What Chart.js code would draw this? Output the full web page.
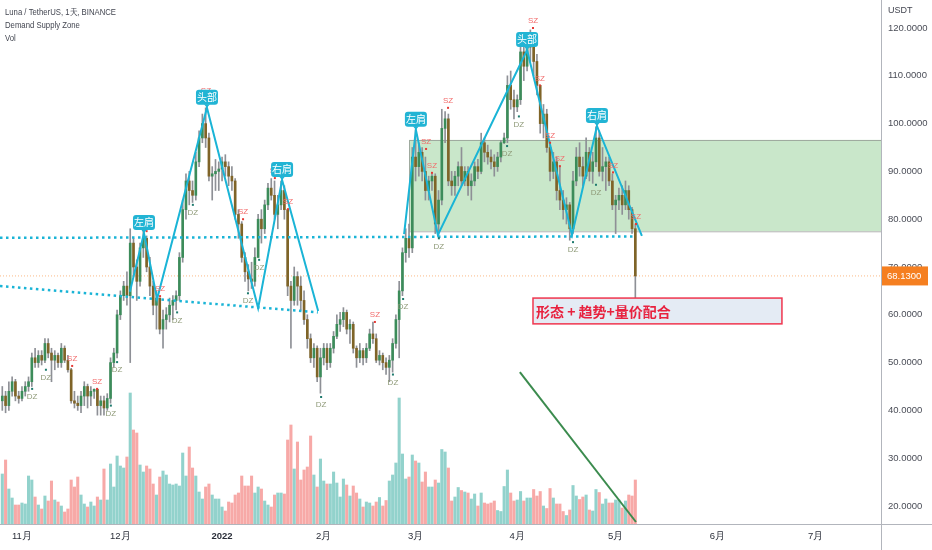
<!DOCTYPE html>
<html lang="zh">
<head>
<meta charset="UTF-8">
<title>Luna / TetherUS 1天</title>
<script src="https://cdn.jsdelivr.net/npm/chart.js"></script>
<style>
  body { margin: 0; background: #fff; }
</style>
</head>
<body>
<canvas id="lunaChart" width="932" height="550"></canvas>
<script>
// daily candles, index 0 = 2021-10-26, last = 2022-05-07
const opens = [42,43,41,44,46,43,42.5,44,45,46, 51,50,51.5,50.5,54,52,50.5,51.5,50,53,
  50.5,48.5,42,41.5,41,43,45,43,44,44.4, 41,42,40.5,42.5,50,52,60,64,66,64,
  75,70,67,74,76,70,66,62,63.5,57, 59,60,62,63,64,72,82,88,86,85,
  92,97,100,97,89,89.5,90,90.5,92,91, 89,88,81,79,72,69,67.5,67,72,80,
  78,83,86.5,85,81,83,86,82,66,63, 68,66,63,59,55,51,53,47,51,53,
  50,53,55.5,58,59,60.5,57,58,53,51, 52.5,51,53,56,55,50.5,51.5,50,49,50.5,
  54,59,65,73,76,74,93,91,94,90, 86,88,89,79,84,99,101,88,87,89,
  91,88,90,87,88,91,90,96,94,93, 92,91,93,96,97,108,105,103.5,105,115,
  112,116,117,113,108,100,102,95,90,92, 86,84,82,83,78,88,93,91,89,94,
  90,92,97,90,91,92,88,83,84,85, 83,86,82,78];
const highs = [45,44,46,47,46.5,44,45,46,47,52, 53,52.5,52.5,55,55,53,52.5,52,54,53.5,
  51.5,48.8,44,43,44,46,45.5,45,44.5,44.5, 43,43,43.5,51,53,61,65,67,69,78,
  76,71.5,75,77.7,76.5,72,67,65,63.5,61, 61.5,63.5,64,65,73,84,89.5,90,88,94,
  98.5,102,103.3,98,91,92.5,92,93,93.5,92, 91,88.5,82,79.5,73,70.5,71,74,81,82,
  84,87.5,88.5,88,85,88,87,82,67,70, 69,68,65,60,56,54,53.5,53,54,54,
  54,56.5,60,60.5,61.5,61,59,58.5,53.5,54, 53,54,57,58.5,56,52.5,52,51,51.5,55,
  60,67,74,78,79,95,98.7,96,95,93, 89,89.5,89.5,86,103,102.5,102,90,90,92,
  95,91,91,89.5,92,92.5,98,97,95.5,94.5, 93.5,94,96.5,98,110,111,107,106,117.5,116,
  118,119.6,119,114.5,108,104,103,96,94,93, 91,86,84.5,83.5,90,95,96,93,97,95,
  94,99.3,98.5,95,93,93,89.5,85,86.5,87, 88,87,82.5,79];
const lows = [40,39.5,40,43,42,41.5,42,43,44,45, 49,49,49.5,50,51,46,48.5,49,49,50,
  48,41.5,40.5,40,39.5,41,40.5,41,42.5,39, 39,39,40,41.5,49,51,59,63,62,50,
  68,63,66,72,69,64,60,57,56,53, 57,58.5,59,61,63,71,80,83,83.5,84,
  91,96,95,88,84,86,86,88,89,87, 86,80,76,71,67,65,65.5,66,72,75,
  77,82,84,80,78,82,80,64,53,62, 62,61,58,53,50,49,46,43.6,49.5,48.5,
  49,52,55,56.5,57.5,56,54,52,49,50, 49.5,50,52.5,54,50,49.5,48.5,47.5,46,48,
  53,51,64,71,72,73,88,89,88,84, 84,86,77,76.5,83,96,87,85,85,87,
  87,87,85,84,87,88.5,89.5,92,91.5,90.5, 89,90,92,95.8,96,103,101,102.5,104,109,
  111,113,110,106,98,97,94,88,88.5,84, 82,80,79,75.6,77,87,89,87,88.5,88,
  87.5,91,89,88,86,87,82,77,82,81, 82,80,77,63];
const closes = [43,41,44,46,43,42.5,44,45,46,51, 50,51.5,50.5,54,52,50.5,51.5,50,53,50.5,
  48.5,42,41.5,41,43,45,43,44,44.4,41, 42,40.5,42.5,50,52,60,64,66,64,75,
  70,67,74,76,70,66,62,63.5,57,59, 60,62,63,64,72,82,88,86,85,92,
  97,100,97,89,89.5,90,90.5,92,91,89, 88,81,79,72,69,67.5,67,72,80,78,
  83,86.5,85,81,83,86,82,66,63,68, 66,63,59,55,51,53,47,51,53,50,
  53,55.5,58,59,60.5,57,58,53,51,52.5, 51,53,56,55,50.5,51.5,50,49,50.5,54,
  59,65,73,76,74,93,91,94,90,86, 88,89,79,84,99,101,88,87,89,91,
  88,90,87,88,91,90,96,94,93,92, 91,93,96,97,108,105,103.5,105,115,112,
  116,117,113,108,100,102,95,90,92,86, 84,82,83,78,88,93,91,89,94,90,
  92,97,90,91,92,88,83,84,85,83, 86,82,78,68.13];
const volumes = [50,64,35,26,19,19,21,20,48,44, 27,19,15,28,23,43,24,22,18,12,
  15,44,37,47,29,20,17,22,18,27, 24,55,24,60,37,68,58,56,67,131,
  94,91,59,52,58,55,40,29,47,53, 49,40,39,40,38,71,48,77,56,48,
  32,25,37,40,29,25,25,17,13,22, 21,29,31,48,38,38,48,31,37,35,
  23,19,17,29,31,31,30,84,99,55, 82,44,54,57,88,49,37,65,43,40,
  40,52,41,27,45,39,28,38,31,25, 17,22,21,18,22,26.5,18,23.5,43,49,
  61,126,70,45,47,69,63,61,42,52, 37,37,44,41,74.5,72,56,23,27,36.5,
  33.5,32,31,25,30,18,31,21,20,21, 23,13.5,12.5,37.5,54,31,23,24,32.5,23,
  26,26,34.5,28,32.5,18,15.5,35.5,26,20, 20,12.5,8.5,14,38.5,28,24.5,27,29,14,
  13,34.5,31.5,20,25,21,21,24,24,16, 23,29,28,44];

// time axis: month starts as bar index
const monthIdx = [6, 36, 67, 98, 126, 157, 187, 218, 248];
const monthLabels = ['11月', '12月', '2022', '2月', '3月', '4月', '5月', '6月', '7月'];
const lastPrice = 68.13;

// drawings, as [bar index, price]
const necklineFlat = [[-0.7, 76.1], [192.3, 76.4]];
const necklineDown = [[-0.7, 66.0], [96.2, 60.5]];
const hsLeft = [[38.9, 64.8], [43.2, 77.1], [47.2, 63.3], [62.4, 103.3], [78, 61.4], [85.3, 88.2], [96.3, 60.8]];
const hsRight = [[122.5, 76.9], [126.1, 98.7], [132.8, 76.7], [160, 115.4], [173.7, 76.7], [181.3, 99.5], [195, 76.5]];
const hsLabels = [['左肩', 43.2, 77.1], ['头部', 62.4, 103.3], ['右肩', 85.3, 88.2],
  ['左肩', 126.1, 98.7], ['头部', 160, 115.4], ['右肩', 181.3, 99.5]];
const volumeTrend = [[157.8, 48.0], [193.2, 16.65]];
const zone = {start: 124, top: 96.6, bottom: 77.5};
const szMarks = [[21.3, 49.3], [28.9, 44.5], [44, 77.5], [48.1, 63.9], [62.1, 105.4], [73.4, 80],
  [83.1, 88.6], [87.1, 82.1], [113.6, 58.5], [129.2, 94.7], [131, 89.7], [135.9, 103.3],
  [161.8, 120], [163.9, 108], [167, 96], [170, 91.1], [186.2, 89.8], [193.2, 79]];
const dzMarks = [[9.1, 44.5], [13.3, 48.5], [33.1, 41], [35, 50.1], [53.3, 60.5], [58.1, 83],
  [74.9, 64.5], [78.3, 71.5], [97.2, 42.8], [119.1, 47.5], [122.2, 63.3], [133.1, 76],
  [153.9, 95.3], [157.5, 101.5], [174, 75.2], [181, 87.2]];
const noteText = '形态 + 趋势+量价配合';
const noteBox = {x0: 161.8, x1: 237.7, top: 63.5, bottom: 58.1};

const UP = '#3c8c5a', DOWN = '#7f6428', WICK = '#8e9096';
const CYAN = '#1ab4d6';
const FONT = '"Liberation Sans", Arial, sans-serif';
const CJK = '"Noto Sans CJK SC", sans-serif';

const pts = arr => arr.map(p => ({x: p[0], y: p[1]}));
const isUp = i => closes[i] >= opens[i];
const noPad = s => { s.paddingTop = 0; s.paddingBottom = 0; s.paddingLeft = 0; s.paddingRight = 0; };

// zone box behind the candles
const zonePlugin = {
  id: 'zone',
  beforeDatasetsDraw(chart) {
    const {ctx, chartArea, scales} = chart;
    const x0 = scales.x.getPixelForValue(zone.start);
    const y0 = scales.y.getPixelForValue(zone.top);
    const y1 = scales.y.getPixelForValue(zone.bottom);
    ctx.save();
    ctx.fillStyle = 'rgba(76,175,80,0.3)';
    ctx.fillRect(x0, y0, chartArea.right - x0, y1 - y0);
    ctx.strokeStyle = 'rgba(130,130,130,0.6)';
    ctx.lineWidth = 1;
    ctx.strokeRect(Math.round(x0) + 0.5, Math.round(y0) + 0.5, chartArea.right - x0, y1 - y0);
    ctx.restore();
  }
};

function roundRect(ctx, x, y, w, h, r) {
  ctx.beginPath();
  ctx.moveTo(x + r, y);
  ctx.arcTo(x + w, y, x + w, y + h, r);
  ctx.arcTo(x + w, y + h, x, y + h, r);
  ctx.arcTo(x, y + h, x, y, r);
  ctx.arcTo(x, y, x + w, y, r);
  ctx.closePath();
}

const overlayPlugin = {
  id: 'overlay',
  afterDatasetsDraw(chart) {
    const {ctx, chartArea, scales} = chart;
    const X = v => scales.x.getPixelForValue(v);
    const Y = v => scales.y.getPixelForValue(v);
    ctx.save();

    // SZ / DZ markers
    ctx.textAlign = 'center';
    ctx.textBaseline = 'middle';
    ctx.font = '8px ' + FONT;
    szMarks.forEach(([i, p]) => {
      const x = X(i), y = Y(p);
      ctx.fillStyle = '#e53935';
      ctx.fillRect(x - 1, y - 1, 2, 2);
      ctx.fillStyle = '#f26b6b';
      ctx.fillText('SZ', x, y - 7);
    });
    dzMarks.forEach(([i, p]) => {
      const x = X(i), y = Y(p);
      ctx.fillStyle = '#1e7a6e';
      ctx.fillRect(x - 1, y - 1, 2, 2);
      ctx.fillStyle = '#8f9a78';
      ctx.fillText('DZ', x, y + 8);
    });

    // head & shoulders labels
    ctx.font = '10px ' + CJK;
    hsLabels.forEach(([t, i, p]) => {
      const x = X(i), y = Y(p);
      ctx.fillStyle = '#22b4d4';
      roundRect(ctx, x - 11, y - 18, 22, 15, 3);
      ctx.fill();
      ctx.beginPath();
      ctx.moveTo(x - 3, y - 3.5);
      ctx.lineTo(x + 3, y - 3.5);
      ctx.lineTo(x, y);
      ctx.fill();
      ctx.fillStyle = '#ffffff';
      ctx.fillText(t, x, y - 10.5);
    });

    // note box
    const bx0 = X(noteBox.x0), bx1 = X(noteBox.x1);
    const by0 = Y(noteBox.top), by1 = Y(noteBox.bottom);
    ctx.fillStyle = '#e4ebf4';
    ctx.fillRect(bx0, by0, bx1 - bx0, by1 - by0);
    ctx.strokeStyle = '#f0364f';
    ctx.lineWidth = 1.5;
    ctx.strokeRect(bx0, by0, bx1 - bx0, by1 - by0);
    ctx.fillStyle = '#e8213e';
    ctx.font = 'bold 14px ' + CJK;
    ctx.textAlign = 'left';
    ctx.fillText(noteText, bx0 + 3, (by0 + by1) / 2 + 0.5);

    // axis lines
    ctx.strokeStyle = '#b2b5bc';
    ctx.lineWidth = 1;
    ctx.beginPath();
    ctx.moveTo(0, chartArea.bottom + 0.5);
    ctx.lineTo(chart.width, chartArea.bottom + 0.5);
    ctx.moveTo(chartArea.right + 0.5, 0);
    ctx.lineTo(chartArea.right + 0.5, chart.height);
    ctx.stroke();

    // last price label
    const py = Y(lastPrice);
    ctx.fillStyle = '#f57f20';
    ctx.fillRect(chartArea.right + 1, py - 9.5, 46, 19);
    ctx.fillStyle = '#ffffff';
    ctx.font = '9.5px ' + FONT;
    ctx.fillText(lastPrice.toFixed(4), chartArea.right + 6, py + 0.5);

    // header texts (narrow, like the terminal font)
    ctx.fillStyle = '#434651';
    ctx.font = '9px ' + FONT;
    ctx.fillText('USDT', chartArea.right + 7, 11);
    ctx.save();
    ctx.scale(0.86, 1);
    ctx.fillText('Luna / TetherUS, 1天, BINANCE', 5 / 0.86, 13);
    ctx.fillText('Demand Supply Zone', 5 / 0.86, 26);
    ctx.fillText('Vol', 5 / 0.86, 39);
    ctx.restore();
    ctx.restore();
  }
};

new Chart(document.getElementById('lunaChart'), {
  type: 'bar',
  data: {
    datasets: [
      {
        type: 'line', order: 1, data: pts(hsLeft), borderColor: CYAN, borderWidth: 2,
        pointRadius: 0, tension: 0
      },
      {
        type: 'line', order: 1, data: pts(hsRight), borderColor: CYAN, borderWidth: 2,
        pointRadius: 0, tension: 0
      },
      {
        type: 'line', order: 1, data: pts(necklineFlat), borderColor: CYAN, borderWidth: 2.5,
        borderDash: [2.5, 3.5], pointRadius: 0
      },
      {
        type: 'line', order: 1, data: pts(necklineDown), borderColor: CYAN, borderWidth: 2.5,
        borderDash: [2.5, 3.5], pointRadius: 0
      },
      {
        type: 'line', order: 1, data: pts(volumeTrend), borderColor: '#3b8b4e', borderWidth: 2,
        pointRadius: 0
      },
      {
        type: 'line', order: 4, data: [{x: -0.7, y: lastPrice}, {x: 267.9, y: lastPrice}],
        borderColor: 'rgba(245,127,32,0.55)', borderWidth: 1, borderDash: [1, 2], pointRadius: 0
      },
      {
        // bodies
        order: 2, grouped: false, barThickness: 2,
        data: opens.map((o, i) => ({x: i, y: [o, closes[i]]})),
        backgroundColor: opens.map((o, i) => isUp(i) ? UP : DOWN)
      },
      {
        // wicks
        order: 3, grouped: false, barThickness: 1,
        data: highs.map((h, i) => ({x: i, y: [lows[i], h]})),
        backgroundColor: WICK
      },
      {
        order: 10, grouped: false, barThickness: 2.4, yAxisID: 'yv',
        data: volumes.map((v, i) => ({x: i, y: v})),
        backgroundColor: volumes.map((v, i) => isUp(i) ? 'rgba(38,166,154,0.5)' : 'rgba(239,83,80,0.5)')
      }
    ]
  },
  options: {
    responsive: false,
    animation: false,
    layout: {padding: 0},
    plugins: {legend: {display: false}, tooltip: {enabled: false}},
    scales: {
      x: {
        type: 'linear', min: -0.7, max: 267.9, offset: false,
        grid: {display: false, drawTicks: false},
        border: {display: false},
        afterFit: s => { s.height = 26; noPad(s); },
        afterBuildTicks: s => { s.ticks = monthIdx.map(v => ({value: v})); },
        ticks: {
          autoSkip: false, maxRotation: 0, padding: 7, color: '#2a2e39',
          font: ctx => ({family: FONT, size: 9.5, weight: ctx.tick && ctx.tick.value === 67 ? 'bold' : 'normal'}),
          callback: v => monthLabels[monthIdx.indexOf(v)]
        }
      },
      y: {
        type: 'linear', position: 'right', min: 16.23, max: 125.86,
        grid: {display: false, drawTicks: false},
        border: {display: false},
        afterFit: s => { s.width = 51; noPad(s); },
        ticks: {
          stepSize: 10, includeBounds: false, padding: 7, color: '#4a4d57',
          font: {family: FONT, size: 9.5},
          callback: v => v.toFixed(4)
        }
      },
      yv: {
        type: 'linear', display: false, min: 0, max: 524,
        afterFit: noPad
      }
    }
  },
  plugins: [zonePlugin, overlayPlugin]
});
</script>
</body>
</html>
